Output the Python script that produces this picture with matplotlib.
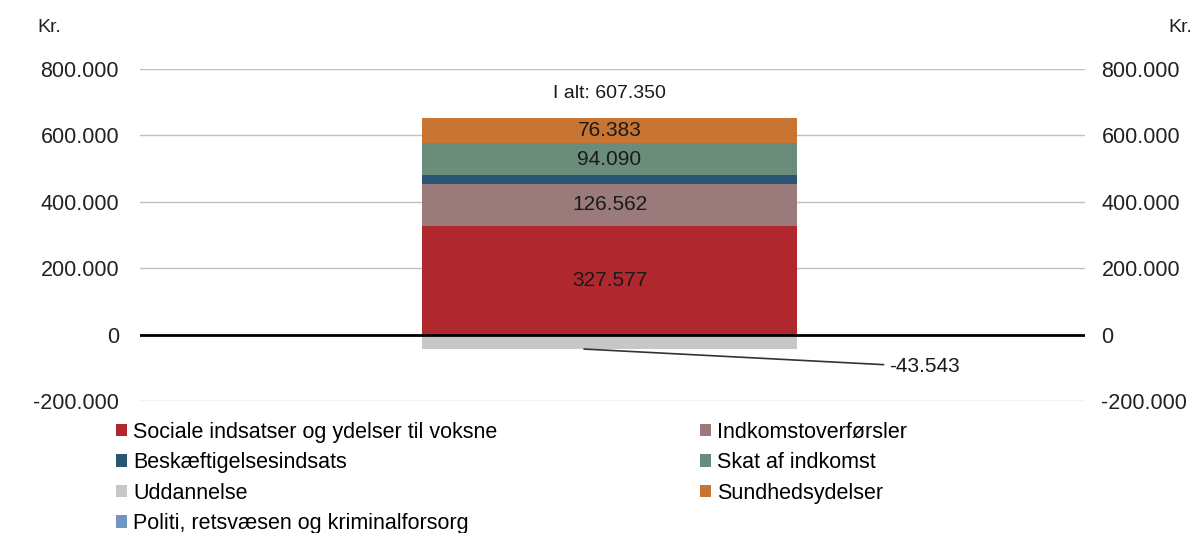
import matplotlib.pyplot as plt
import numpy as np

plt.rcParams['font.family'] = ['Liberation Sans', 'DejaVu Sans']

# Data (kr.)
categories = ['Sociale indsatser og ydelser til voksne', 'Indkomstoverførsler',
              'Beskæftigelsesindsats', 'Skat af indkomst', 'Sundhedsydelser',
              'Uddannelse', 'Politi, retsvæsen og kriminalforsorg']
values = [327577, 126562, 27500, 94090, 76383, -43543, -1219]
colors = ['#B0282E', '#9A7A7A', '#2A5573', '#6A8C7A', '#C87533', '#C6C7C9', '#6F97BF']
shown_labels = ['327.577', '126.562', '', '94.090', '76.383', '', '']
total_label = 'I alt: 607.350'
yticks = [-200000, 0, 200000, 400000, 600000, 800000]


def fmt(v):
    return f'{v:,.0f}'.replace(',', '.')


fig = plt.figure(figsize=(11.96, 5.33), dpi=100)
ax = fig.add_axes([0.117, 0.2477, 0.79, 0.6228])

pos_base = 0
neg_base = 0
bars = {}
xc = -0.003
for cat, v, c, lab in zip(categories, values, colors, shown_labels):
    if v >= 0:
        b = ax.bar(xc, v, bottom=pos_base, width=0.397, color=c, zorder=3)
        if lab:
            ax.text(xc, pos_base + v / 2, lab, ha='center', va='center',
                    fontsize=15, color='#1a1a1a', zorder=4)
        pos_base += v
    else:
        b = ax.bar(xc, v, bottom=neg_base, width=0.397, color=c, zorder=3)
        neg_base += v
    bars[cat] = b

ax.text(xc, pos_base + 75000, total_label, ha='center', va='center', fontsize=14, color='#1a1a1a')

# leader for Uddannelse
ax.annotate(fmt(values[5]), xy=(-0.03, values[5]), xytext=(0.293, -97000),
            ha='left', va='center', fontsize=15, color='#1a1a1a',
            arrowprops=dict(arrowstyle='-', color='#333333', lw=1.2,
                            shrinkA=2, shrinkB=0))

ax.set_xlim(-0.5, 0.5)
ax.set_ylim(-200000, 800000)
ax.set_yticks(yticks)
ax.set_yticklabels([fmt(t) for t in yticks], fontsize=15.5, color='#222222')
ax.set_xticks([])
ax.tick_params(axis='y', length=0, pad=15)
for s in ax.spines.values():
    s.set_visible(False)
ax.grid(axis='y', color='#BFBFBF', lw=1.0, zorder=0)
ax.axhline(0, color='black', lw=2, zorder=5)

ax2 = ax.twinx()
ax2.set_ylim(ax.get_ylim())
ax2.set_yticks(yticks)
ax2.set_yticklabels([fmt(t) for t in yticks], fontsize=15.5, color='#222222')
ax2.tick_params(axis='y', length=0, pad=12)
for s in ax2.spines.values():
    s.set_visible(False)

fig.text(0.031, 0.948, 'Kr.', fontsize=14, color='#222222', va='center')
fig.text(0.977, 0.948, 'Kr.', fontsize=14, color='#222222', va='center', ha='left')

# legend: row-wise order in two columns
order = [0, 2, 5, 6, 1, 3, 4]
handles = [bars[categories[i]] for i in order]
labels = [categories[i] for i in order]
fig.legend(handles, labels, ncol=2, loc='upper left', bbox_to_anchor=(0.088, 0.229),
           frameon=False, fontsize=15.5, handlelength=0.5, handleheight=0.5,
           handletextpad=0.3, columnspacing=9.4, labelspacing=0.44, borderpad=0)

fig.savefig('out.png', dpi=100)
